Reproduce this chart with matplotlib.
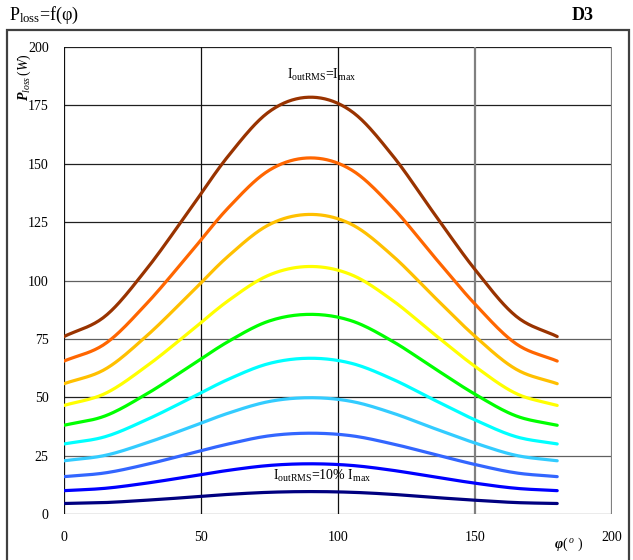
import numpy as np
import matplotlib
matplotlib.use("Agg")
import matplotlib.pyplot as plt
from matplotlib.patches import Rectangle

plt.rcParams['font.family'] = ['Liberation Serif', 'DejaVu Serif']
plt.rcParams['mathtext.fontset'] = 'custom'
plt.rcParams['mathtext.rm'] = 'Liberation Serif'
plt.rcParams['mathtext.it'] = 'Liberation Serif:italic'
plt.rcParams['mathtext.bf'] = 'Liberation Serif:italic:bold'

# data
phi = [0, 15, 30, 45, 60, 75, 90, 105, 120, 135, 150, 165, 180]
p_100 = [76, 84.7, 104.7, 128.8, 153.4, 172.4, 178.5, 172.4, 153.4, 128.8, 104.7, 84.7, 76]
p_90 = [65.5, 72.9, 89.9, 110.3, 131.2, 147.3, 152.5, 147.3, 131.2, 110.3, 89.9, 72.9, 65.5]
p_80 = [55.8, 62.0, 76.1, 93.1, 110.5, 124.0, 128.3, 124.0, 110.5, 93.1, 76.1, 62.0, 55.8]
p_70 = [46.5, 51.6, 63.2, 77.1, 91.4, 102.4, 106.0, 102.4, 91.4, 77.1, 63.2, 51.6, 46.5]
p_60 = [38.0, 42.0, 51.3, 62.5, 73.9, 82.7, 85.5, 82.7, 73.9, 62.5, 51.3, 42.0, 38.0]
p_50 = [30.0, 33.1, 40.3, 48.9, 57.7, 64.5, 66.7, 64.5, 57.7, 48.9, 40.3, 33.1, 30.0]
p_40 = [22.8, 25.1, 30.4, 36.7, 43.2, 48.2, 49.8, 48.2, 43.2, 36.7, 30.4, 25.1, 22.8]
p_30 = [16.0, 17.6, 21.2, 25.6, 30.0, 33.5, 34.6, 33.5, 30.0, 25.6, 21.2, 17.6, 16.0]
p_20 = [10.0, 11.0, 13.2, 15.9, 18.7, 20.8, 21.5, 20.8, 18.7, 15.9, 13.2, 11.0, 10.0]
p_10 = [4.5, 4.9, 5.9, 7.1, 8.4, 9.3, 9.6, 9.3, 8.4, 7.1, 5.9, 4.9, 4.5]
series = [p_100, p_90, p_80, p_70, p_60, p_50, p_40, p_30, p_20, p_10]
colors = ['#993300', '#FF6600', '#FFC000', '#FFFF00', '#00FF00', '#00FFFF',
          '#33CCFF', '#3366FF', '#0000FF', '#000080']
xticks = [0, 50, 100, 150, 200]
yticks = [0, 25, 50, 75, 100, 125, 150, 175, 200]


def catmull_rom(x, y, n=20):
    x = np.asarray(x, float); y = np.asarray(y, float)
    px = np.concatenate([[2 * x[0] - x[1]], x, [2 * x[-1] - x[-2]]])
    py = np.concatenate([[2 * y[0] - y[1]], y, [2 * y[-1] - y[-2]]])
    xs, ys = [], []
    t = np.linspace(0, 1, n, endpoint=False)
    for i in range(1, len(px) - 2):
        for arr, out in ((px, xs), (py, ys)):
            p0, p1, p2, p3 = arr[i - 1], arr[i], arr[i + 1], arr[i + 2]
            out.append(0.5 * (2 * p1 + (-p0 + p2) * t + (2 * p0 - 5 * p1 + 4 * p2 - p3) * t ** 2
                              + (-p0 + 3 * p1 - 3 * p2 + p3) * t ** 3))
    xs.append([x[-1]]); ys.append([y[-1]])
    return np.concatenate(xs), np.concatenate(ys)


W, H = 633, 560
fig = plt.figure(figsize=(W / 100, H / 100), dpi=100)
ax = fig.add_axes([64 / W, 1 - 514 / H, (612 - 64) / W, (514 - 47) / H])

# outer frame
fig.patches.append(Rectangle((7 / W, -0.02), (629 - 7) / W, 1.02 - 30 / H,
                             transform=fig.transFigure, fill=False,
                             edgecolor='#404040', linewidth=1.6))

ax.set_xlim(0, 200)
ax.set_ylim(0, 200)
ax.set_xticks(xticks)
ax.set_yticks(yticks)
ax.tick_params(length=0, labelsize=10, pad=11)
ax.tick_params(axis='x', pad=12)
for yv in yticks:
    ax.axhline(yv, color='#202020' if yv in (50, 125, 150, 175, 200) else '#606060',
               lw=0.9, zorder=1)
for xv in xticks:
    ax.axvline(xv, color='#101010' if xv in (0, 50, 100) else '#808080',
               lw=0.9 if xv in (0, 50, 100) else 1.6, zorder=1)
for s in ax.spines.values():
    s.set_visible(False)

for vals, c in zip(series, colors):
    sx, sy = catmull_rom(phi, vals)
    ax.plot(sx, sy, color=c, lw=2.3, solid_capstyle='round', zorder=3)

ax.text(94, 188, r'I$_{\mathrm{outRMS}}$=I$_{\mathrm{max}}$', ha='center', va='center',
        fontsize=10, zorder=4)
ax.text(94, 16.5, r'I$_{\mathrm{outRMS}}$=10% I$_{\mathrm{max}}$', ha='center', va='center',
        fontsize=10, zorder=4)

fig.text(24 / W, 1 - 77 / H, r'$\mathbf{P}_{\mathit{loss}}\,\mathit{(W)}$', rotation=90,
         ha='center', va='center', fontsize=10)
fig.text(569 / W, 1 - 544 / H, r'$\mathbf{\varphi}\mathit{(\ \!^{o}\ )}$',
         ha='center', va='center', fontsize=10)
fig.text(9 / W, 1 - 15 / H, r'P$_{\mathrm{loss}}$=f(φ)', ha='left', va='center',
         fontsize=13)
fig.text(594 / W, 1 - 15 / H, 'D3', ha='right', va='center', fontsize=13,
         fontweight='bold')

fig.savefig('out.png', dpi=100)
